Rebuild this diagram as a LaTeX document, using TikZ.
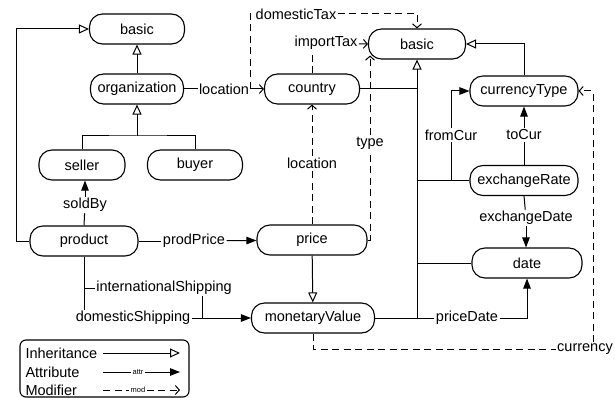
\documentclass[tikz,border=0pt]{standalone}
\usepackage{fontspec}
\setmainfont{Liberation Sans}
\usetikzlibrary{arrows.meta}

\begin{document}
\begin{tikzpicture}[x=1pt,y=-1pt,line width=1pt,
	cls/.style={draw,line width=1.1pt,rounded corners=13pt,minimum height=30pt,inner sep=0pt,font=\fontsize{14.5}{17}\selectfont},
	lbl/.style={inner sep=1pt,font=\fontsize{14.5}{17}\selectfont},
	tiny/.style={inner sep=1pt,font=\fontsize{7.5}{8}\selectfont},
	inhArrow/.style={-{Triangle[open,length=10pt,width=9pt]}},
	attArrow/.style={-{Triangle[length=10pt,width=7.5pt]}},
	modLine/.style={dash pattern=on 7pt off 4.5pt},
	modTip/.style={-{Straight Barb[length=4pt,width=9pt]}}]
	\useasboundingbox (0,0) rectangle (615,398);

	\node[cls,minimum width=95pt] (basicA) at (137,29) {basic};
	\node[cls,minimum width=93pt] (org) at (137,89) {organization};
	\node[cls,minimum width=86pt] (seller) at (82,165) {seller};
	\node[cls,minimum width=95pt] (buyer) at (195,165) {buyer};
	\node[cls,minimum width=108pt] (product) at (84,241) {product};
	\node[cls,minimum width=110pt] (price) at (312,240) {price};
	\node[cls,minimum width=123pt] (money) at (313,318) {monetaryValue};
	\node[cls,minimum width=95pt] (country) at (312,89) {country};
	\node[cls,minimum width=97pt] (basicB) at (417,44) {basic};
	\node[cls,minimum width=108pt] (curType) at (524,91) {currencyType};
	\node[cls,minimum width=108pt] (exRate) at (524,180.5) {exchangeRate};
	\node[cls,minimum width=110pt] (date) at (527,263) {date};

	\node[lbl] (lSold) at (85,205) {soldBy};
	\node[lbl] (lProd) at (194,241) {prodPrice};
	\node[lbl] (lIntl) at (164,288) {internationalShipping};
	\node[lbl] (lDom) at (133,318) {domesticShipping};
	\node[lbl] (lLoc) at (224,89) {location};
	\node[lbl] (lDTax) at (296,14) {domesticTax};
	\node[lbl] (lITax) at (326,43) {importTax};
	\node[lbl] (lLocP) at (312,163) {location};
	\node[lbl] (lType) at (370,143) {type};
	\node[lbl] (lFrom) at (451,135) {fromCur};
	\node[lbl] (lTo) at (524,135) {toCur};
	\node[lbl] (lExD) at (526,218) {exchangeDate};
	\node[lbl] (lPD) at (467,318) {priceDate};
	\node[lbl] (lCur) at (585,349) {currency};

	\coordinate (sb) at (137,136);
	\coordinate (pl) at (16,241);
	\coordinate (fc) at (exRate.west -| lFrom);
	\coordinate (tyEnd) at ([xshift=3pt,yshift=4pt]basicB.south west);

	\draw[inhArrow] (org) -- (basicA);
	\draw (seller.north) |- (sb) -| (buyer.north);
	\draw[inhArrow] (sb) -- (org.south);
	\draw[inhArrow] (product.west) -- (pl) |- (basicA.west);
	\draw[inhArrow] (price) -- (money);
	\draw[inhArrow] (curType.north) |- (basicB.east);
	\draw[inhArrow] (money.east) -| (basicB.south);
	\draw (country.east) -- (country.east -| basicB.south);
	\draw (fc) -- (fc -| basicB.south);
	\draw (date.west) -- (date.west -| basicB.south);

	\draw (product.north) -- (lSold);
	\draw[attArrow] (lSold) -- (lSold |- seller.south);
	\draw (product) -- (lProd);
	\draw[attArrow] (lProd) -- (price);
	\draw (product.south) -- (product.south |- lDom.north);
	\draw (product.south |- lIntl.west) -- (lIntl.west);
	\draw ([xshift=38pt]lIntl.south) -- ([xshift=38pt]lIntl.south |- lDom.east);
	\draw[attArrow] (lDom.east) -- (money.west);
	\draw (org) -- (lLoc);
	\draw[modTip] (lLoc) -- (country);
	\draw (exRate.west) -- (fc) -- (lFrom);
	\draw[attArrow] (lFrom) |- (curType.west);
	\draw (exRate.north) -- (lTo);
	\draw[attArrow] (lTo) -- (curType.south);
	\draw (exRate.south) -- (lExD);
	\draw[attArrow] (lExD) -- (lExD |- date.north);
	\draw (money.east -| basicB.south) -- (lPD);
	\draw[attArrow] (lPD) -| (date.south);

	\draw[modLine] (lLoc.east) |- (lDTax.west);
	\draw[modLine,modTip] (lDTax.east) -| (basicB.north);
	\draw[modLine] (country.north) -- (country.north |- lITax.south);
	\draw[modTip] (lITax) -- (basicB.west);
	\draw[modLine] (price) -- (lLocP);
	\draw[modLine,modTip] (lLocP) -- (country);
	\draw[modLine] (price.east) -| (lType);
	\draw[modLine,modTip] (lType) -- (lType |- tyEnd);
	\draw[modLine] (money.south) |- (lCur.west);
	\draw[modLine,modTip] ([xshift=8pt]lCur.north) |- (curType.east);

	\draw[line width=1.1pt,rounded corners=6pt] (20,340) rectangle (189,397);
	\node[lbl,anchor=west] (lgInh) at (24,353) {Inheritance};
	\node[lbl,anchor=west] (lgAtt) at (24,372) {Attribute};
	\node[lbl,anchor=west] (lgMod) at (24,390) {Modifier};
	\coordinate (lgInhA) at (103,353);
	\coordinate (lgInhB) at (180,353);
	\coordinate (lgAttA) at (103,372);
	\coordinate (lgAttB) at (180,372);
	\coordinate (lgModA) at (103,390);
	\coordinate (lgModB) at (180,390);
	\node[tiny] (lgAttr) at (138,372) {attr};
	\node[tiny] (lgModT) at (138,390) {mod};
	\draw[inhArrow] (lgInhA) -- (lgInhB);
	\draw (lgAttA) -- (lgAttr);
	\draw[attArrow] (lgAttr) -- (lgAttB);
	\draw[modLine] (lgModA) -- (lgModT);
	\draw[modLine,modTip] (lgModT) -- (lgModB);
\end{tikzpicture}
\end{document}
